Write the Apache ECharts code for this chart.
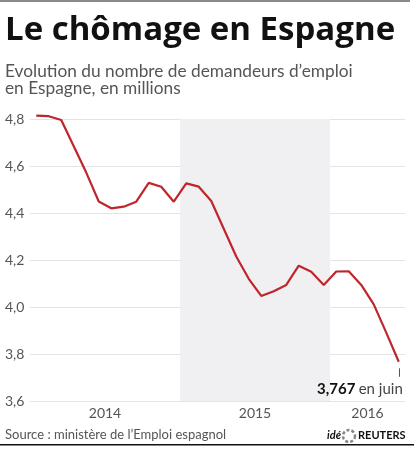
<!DOCTYPE html>
<html><head><meta charset="utf-8">
<script src="https://cdn.jsdelivr.net/npm/echarts@6/dist/echarts.min.js"></script>
<style>html,body{margin:0;padding:0;background:#fff}#c{width:414px;height:450px}</style>
</head><body><div id="c"></div>
<script>
// Monthly registered job seekers in Spain, millions (Jan 2014 – Jun 2016)
var months = ['2014-01','2014-02','2014-03','2014-04','2014-05','2014-06','2014-07','2014-08','2014-09','2014-10','2014-11','2014-12',
              '2015-01','2015-02','2015-03','2015-04','2015-05','2015-06','2015-07','2015-08','2015-09','2015-10','2015-11','2015-12',
              '2016-01','2016-02','2016-03','2016-04','2016-05','2016-06'];
var values = [4.814,4.812,4.796,4.684,4.572,4.449,4.420,4.427,4.448,4.528,4.512,4.448,
              4.526,4.512,4.451,4.333,4.215,4.120,4.047,4.067,4.094,4.176,4.150,4.094,
              4.151,4.152,4.094,4.011,3.891,3.767];
var years = ['2014','2015','2016'];
var yTicks = [3.6,3.8,4.0,4.2,4.4,4.6,4.8];
var shadedYear = '2015';

var n = months.length;
var axisMax = 30; // July 1 2016, months since Jan 2014
var points = values.map(function(v,i){ return [i+0.5, v]; });
var yearPos = years.map(function(y,i){ var s=i*12, e=Math.min(s+12, axisMax); return (s+e)/2; });
var shadeStart = years.indexOf(shadedYear)*12;
function fmt(v){ return v.toFixed(1).replace('.',','); }

var chart = echarts.init(document.getElementById('c'), null, {renderer:'canvas'});
chart.setOption({
  animation:false,
  grid:{left:30, right:9, top:119, bottom:49},
  xAxis:{type:'value', min:0, max:axisMax,
    axisLine:{show:false}, axisTick:{show:false}, splitLine:{show:false},
    axisLabel:{customValues:yearPos, margin:5, fontFamily:'Lato', fontSize:14, color:'#555',
      formatter:function(v){ return years[yearPos.indexOf(v)]; }}},
  yAxis:{type:'value', min:yTicks[0], max:yTicks[yTicks.length-1], interval:0.2,
    axisLine:{show:false}, axisTick:{show:false},
    splitLine:{lineStyle:{color:'#e4e4e6', width:1}},
    axisLabel:{align:'left', margin:25, fontFamily:'Lato', fontSize:14, color:'#555', formatter:fmt}},
  series:[{
    type:'line', data:points, showSymbol:false, clip:false,
    lineStyle:{color:'#be262c', width:2.2},
    markArea:{silent:true, itemStyle:{color:'#f0f0f3'},
      data:[[{xAxis:shadeStart, yAxis:4.8},{xAxis:shadeStart+12, yAxis:3.6}]]},
    markLine:{silent:true, symbol:'none', label:{show:false},
      lineStyle:{color:'#555', width:1, type:'solid'},
      data:[[{coord:[n-0.5, values[n-1]-0.028]},{coord:[n-0.5, values[n-1]-0.064]}]]},
    endLabel:{show:true, align:'right', verticalAlign:'middle', distance:0, offset:[4,27],
      formatter:function(p){ return '{b|'+p.value[1].toFixed(3).replace('.',',')+'} {n|en juin}'; },
      rich:{b:{fontFamily:'Lato', fontWeight:'bold', fontSize:15, color:'#111'},
            n:{fontFamily:'Lato', fontSize:15, color:'#444'}}}
  }],
  graphic:[
    {type:'rect', shape:{x:0,y:0,width:410,height:2}, style:{fill:'#8a8a8a'}},
    {type:'text', x:5, y:14, style:{text:'Le chômage en Espagne', font:'bold 33px "Open Sans"', fill:'#111'}},
    {type:'text', x:5, y:63, style:{text:'Evolution du nombre de demandeurs d’emploi\nen Espagne, en millions', font:'17.3px Lato', fill:'#555', lineHeight:17}},
    {type:'text', x:5, y:428, style:{text:'Source : ministère de l’Emploi espagnol', font:'13px Lato', fill:'#555'}},
    {type:'text', x:327, y:430, style:{text:'idé', font:'italic bold 11px Lato', fill:'#111'}},
    {type:'circle', shape:{cx:349, cy:436, r:6}, style:{fill:'none', stroke:'#888', lineWidth:2.5, lineDash:[3,2]}},
    {type:'text', x:358, y:430, style:{text:'REUTERS', font:'bold 11px Lato', fill:'#111'}},
    {type:'rect', shape:{x:0,y:444,width:414,height:1.5}, style:{fill:'#111'}}
  ]
});
</script></body></html>
